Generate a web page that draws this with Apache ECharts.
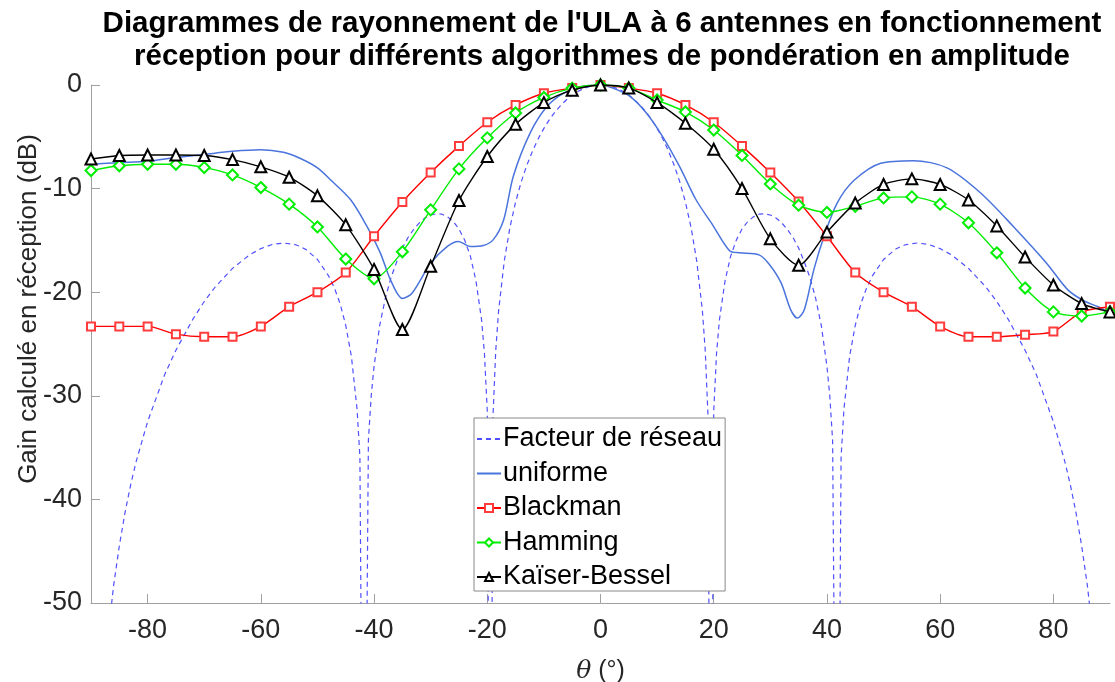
<!DOCTYPE html>
<html>
<head>
<meta charset="utf-8">
<script src="https://cdn.jsdelivr.net/npm/echarts@6/dist/echarts.min.js"></script>
<style>
  html, body { margin: 0; padding: 0; background: #fff; }
  #app { width: 1115px; height: 682px; }
</style>
</head>
<body>
<div id="app"></div>
<script>
// angles of the weighted patterns (one marker every 5 degrees)
const angles = [-90, -85, -80, -75, -70, -65, -60, -55, -50, -45, -40, -35, -30, -25, -20, -15, -10, -5, 0,
  5, 10, 15, 20, 25, 30, 35, 40, 45, 50, 55, 60, 65, 70, 75, 80, 85, 90];

const blackman = [-23.3, -23.3, -23.3, -24.05, -24.3, -24.3, -23.3, -21.4, -20.0, -18.1, -14.6, -11.3, -8.45, -5.9, -3.6, -1.93, -0.8, -0.3, 0,
  -0.3, -0.8, -1.93, -3.6, -5.9, -8.45, -11.25, -14.6, -18.1, -20.0, -21.4, -23.3, -24.3, -24.3, -24.1, -23.8, -21.9, -21.4];

const hamming = [-8.26, -7.8, -7.65, -7.65, -7.97, -8.68, -9.9, -11.5, -13.7, -16.8, -18.7, -16.1, -12.05, -8.1, -5.1, -2.7, -1.2, -0.3, 0,
  -0.3, -1.45, -2.6, -4.35, -6.8, -9.55, -11.6, -12.3, -11.7, -10.9, -10.8, -11.5, -13.3, -16.2, -19.6, -21.9, -22.3, -21.9];

const kaiser = [-7.14, -6.8, -6.75, -6.75, -6.8, -7.2, -7.9, -8.9, -10.7, -13.5, -17.8, -23.6, -17.5, -11.15, -6.9, -3.8, -1.7, -0.5, 0,
  -0.3, -1.7, -3.7, -6.2, -10.0, -14.85, -17.4, -14.2, -11.4, -9.6, -9.06, -9.6, -11.1, -13.6, -16.6, -19.3, -21.1, -21.9];

// uniform weighting (measured, solid blue)
const uniformAngles = [-90, -85, -80, -75, -70, -65, -60, -56, -53, -50, -47.6, -44.1, -41.2, -38.9, -37.1, -35, -33.3, -30, -27.1, -25.1,
  -23, -20.7, -18.9, -17.1, -15.4, -12.4, -9.5, -6.6, -3.6, 0, 2.2, 5.2, 8.1, 11, 14, 16.9, 19.8, 22.8, 24.5, 28,
  29.8, 31.9, 33.6, 34.8, 36, 37.7, 39.5, 41.8, 44.8, 49.5, 55.3, 61.2, 67.1, 73, 78.8, 82.6, 85.6, 87.9, 90];
const uniform = [-7.65, -7.5, -7.35, -7.0, -6.7, -6.4, -6.25, -6.5, -7.1, -8.0, -9.2, -11.1, -13.7, -16.2, -18.8, -20.6, -20.1, -17.2, -15.6, -15.1,
  -15.6, -15.5, -14.9, -13.0, -8.8, -4.6, -2.1, -0.8, -0.16, 0, -0.3, -1.1, -2.7, -5.0, -7.9, -11.1, -13.5, -16.0, -16.2, -16.4,
  -17.3, -19.1, -21.7, -22.5, -21.7, -17.8, -14.6, -11.4, -9.2, -7.55, -7.3, -8.0, -10.4, -13.7, -17.2, -19.8, -20.9, -21.4, -22.0];

// array factor (dashed), nulls go far below the axis
const afAngles = [-90, -88, -87, -86, -85, -84, -83, -82, -80, -77, -75, -72, -70, -68, -65, -62, -60, -58, -56, -54, -53, -52, -50, -48, -47, -46, -45, -44, -43, -42.5, -41.8,
  -41, -40.5, -40, -39, -38, -37, -36, -35, -34, -33, -32, -31, -30, -29, -28, -27, -26, -25, -24, -23, -22, -21, -20.5, -20, -19.47,
  -19, -18.5, -18, -17, -16, -15, -14, -13, -12, -11, -10, -9, -8, -7, -6, -5, -4, -3, -2, -1, 0,
  1, 2, 3, 4, 5, 6, 7, 8, 9, 10, 11, 12, 13, 14, 15, 16, 17, 18, 18.5, 19,
  19.47, 20, 20.5, 21, 22, 23, 24, 25, 26, 27, 28, 29, 30, 31, 32, 33, 34, 35, 36, 37, 38, 39, 40, 40.5, 41,
  41.8, 42.5, 43, 44, 45, 46, 47, 48, 50, 52, 53, 54, 56, 58, 60, 62, 65, 68, 70, 72, 75, 77, 80, 82, 83, 84, 85, 86, 87, 88, 90];
const afValues = [-90, -60.3, -53.2, -48.3, -44.5, -41.3, -38.6, -36.3, -32.5, -27.97, -25.6, -22.6, -20.9, -19.46, -17.7, -16.4, -15.79, -15.4, -15.25, -15.4, -15.6, -15.89, -16.84, -18.45, -19.6, -21.1, -23.2, -26.2, -31.3, -35.9, -90,
  -34.3, -30.0, -27.15, -23.2, -20.58, -18.58, -17.07, -15.74, -14.72, -13.93, -13.3, -12.84, -12.55, -12.43, -12.47, -12.73, -13.19, -13.9, -14.96, -16.5, -18.9, -22.7, -25.9, -31.5, -90,
  -32.1, -25.6, -21.8, -17.0, -13.75, -11.3, -9.34, -7.73, -6.36, -5.19, -4.19, -3.32, -2.58, -1.95, -1.42, -0.97, -0.62, -0.35, -0.15, -0.04, 0,
  -0.04, -0.15, -0.35, -0.62, -0.97, -1.42, -1.95, -2.58, -3.32, -4.19, -5.19, -6.36, -7.73, -9.34, -11.3, -13.75, -17.0, -21.8, -25.6, -32.1,
  -90, -31.5, -25.9, -22.7, -18.9, -16.5, -14.96, -13.9, -13.19, -12.73, -12.47, -12.43, -12.55, -12.84, -13.3, -13.93, -14.72, -15.74, -17.07, -18.58, -20.58, -23.2, -27.15, -30.0, -34.3,
  -90, -35.9, -31.3, -26.2, -23.2, -21.1, -19.6, -18.45, -16.84, -15.89, -15.6, -15.4, -15.25, -15.4, -15.79, -16.4, -17.7, -19.46, -20.9, -22.6, -25.6, -27.97, -32.5, -36.3, -38.6, -41.3, -44.5, -48.3, -53.2, -60.3, -90];

const xTicks = [-80, -60, -40, -20, 0, 20, 40, 60, 80];

function pairs(xs, ys) {
  return xs.map((x, i) => [x, ys[i]]);
}

const font = "'Liberation Sans', Arial, sans-serif";
const axisGray = "#a0a0a0";
const textDark = "#262626";

const chart = echarts.init(document.getElementById("app"), null, { renderer: "canvas" });

chart.setOption({
  animation: false,
  backgroundColor: "#fff",
  textStyle: { fontFamily: font },
  title: {
    text: "Diagrammes de rayonnement de l'ULA à 6 antennes en fonctionnement\nréception pour différents algorithmes de pondération en amplitude",
    left: 602,
    top: 7,
    padding: 0,
    textAlign: "center",
    textStyle: { fontFamily: font, fontSize: 29.5, fontWeight: "bold", color: "#000", lineHeight: 33 }
  },
  grid: { left: 91, right: 5, top: 85, bottom: 79, containLabel: false, outerBoundsMode: "none" },
  legend: {
    orient: "vertical",
    left: 474,
    top: 418,
    padding: [7, 3, 0, 2],
    itemGap: 6.5,
    itemWidth: 24,
    itemHeight: 10,
    backgroundColor: "#fff",
    borderColor: "#888",
    borderWidth: 1,
    borderRadius: 0,
    textStyle: { fontFamily: font, fontSize: 27, color: "#000", padding: [0, 0, 0, -3], lineHeight: 28 },
    data: [
      { name: "Facteur de réseau", itemStyle: { opacity: 0 } },
      { name: "uniforme", itemStyle: { opacity: 0 } },
      "Blackman", "Hamming", "Kaïser-Bessel"
    ]
  },
  xAxis: {
    type: "value",
    min: -90,
    max: 90,
    name: "{i|θ} (°)",
    nameLocation: "middle",
    nameGap: 56,
    nameMoveOverlap: false,
    nameTextStyle: {
      fontFamily: font, fontSize: 25, color: textDark,
      rich: { i: { fontStyle: "italic", fontFamily: "'DejaVu Serif', serif", fontSize: 25, color: textDark } }
    },
    axisLine: { onZero: false, lineStyle: { color: axisGray, width: 1 } },
    axisTick: { inside: true, length: 9, lineStyle: { color: axisGray }, customValues: xTicks },
    axisLabel: { fontSize: 27, color: textDark, margin: 14, customValues: xTicks },
    splitLine: { show: false }
  },
  yAxis: {
    type: "value",
    min: -50,
    max: 0,
    interval: 10,
    name: "Gain calculé en réception (dB)",
    nameLocation: "middle",
    nameGap: 49,
    nameMoveOverlap: false,
    nameTextStyle: { fontFamily: font, fontSize: 26, color: textDark, padding: [0, 0, 0, 70] },
    axisLine: { show: true, onZero: false, lineStyle: { color: axisGray, width: 1 } },
    axisTick: { show: true, inside: true, length: 9, lineStyle: { color: axisGray } },
    axisLabel: { fontSize: 27, color: textDark, margin: 9 },
    splitLine: { show: false }
  },
  series: [
    {
      name: "Facteur de réseau",
      type: "line",
      data: pairs(afAngles, afValues),
      showSymbol: false,
      symbol: "none",
      clip: true,
      lineStyle: { color: "#5050ff", width: 1.2, type: [5, 4] },
      itemStyle: { color: "#5050ff" },
      z: 1
    },
    {
      name: "uniforme",
      type: "line",
      data: pairs(uniformAngles, uniform),
      symbol: "none",
      smooth: 0.3,
      lineStyle: { color: "#4a74dc", width: 1.5 },
      itemStyle: { color: "#4a74dc" },
      z: 2
    },
    {
      name: "Blackman",
      type: "line",
      data: pairs(angles, blackman),
      symbol: "emptyRect",
      symbolSize: 8,
      smooth: 0.25,
      lineStyle: { color: "#ff0000", width: 1.4 },
      itemStyle: { color: "#ff3b3b", borderWidth: 1 },
      z: 3
    },
    {
      name: "Hamming",
      type: "line",
      data: pairs(angles, hamming),
      symbol: "emptyDiamond",
      symbolSize: 11,
      smooth: 0.25,
      lineStyle: { color: "#00ee00", width: 1.4 },
      itemStyle: { color: "#00ee00", borderWidth: 1 },
      z: 4
    },
    {
      name: "Kaïser-Bessel",
      type: "line",
      data: pairs(angles, kaiser),
      symbol: "emptyTriangle",
      symbolSize: 11,
      smooth: 0.25,
      lineStyle: { color: "#000", width: 1.4 },
      itemStyle: { color: "#000", borderWidth: 1 },
      z: 5
    }
  ]
});
</script>
</body>
</html>
